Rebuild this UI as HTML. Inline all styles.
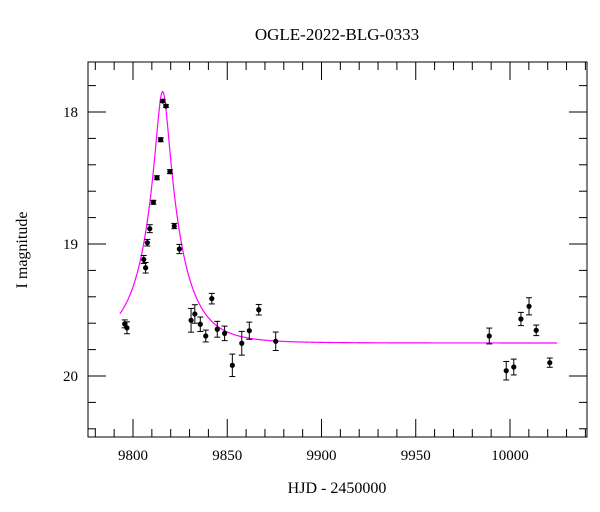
<!DOCTYPE html>
<html><head><meta charset="utf-8"><style>
body{margin:0;background:#fff;}
svg{display:block;font-family:"Liberation Serif",serif;}
</style></head><body>
<svg id="chart" width="600" height="512"></svg>
<script>
const hjd=[9795.6,9796.8,9805.7,9806.7,9807.6,9808.9,9810.8,9812.7,9814.7,9815.8,9817.5,9819.6,9821.9,9824.6,9830.8,9832.8,9835.7,9838.6,9841.8,9844.7,9848.6,9852.7,9857.7,9861.7,9866.7,9875.7,9989.0,9998.0,10002.0,10005.8,10010.1,10013.9,10021.1];
const mag=[19.605,19.635,19.117,19.18,18.99,18.884,18.684,18.498,18.21,17.917,17.955,18.452,18.864,19.038,19.578,19.53,19.608,19.697,19.414,19.646,19.677,19.919,19.752,19.657,19.498,19.737,19.697,19.96,19.932,19.568,19.472,19.654,19.899];
const err=[0.03,0.045,0.03,0.04,0.025,0.03,0.015,0.015,0.015,0.01,0.01,0.015,0.02,0.035,0.09,0.07,0.055,0.045,0.04,0.06,0.055,0.085,0.09,0.065,0.04,0.07,0.06,0.07,0.06,0.05,0.065,0.04,0.035];
const xTicks=[9800,9850,9900,9950,10000];
const yTicks=[18,19,20];
const model={t0:9815.7,tE:19.0,u0:0.175,base:19.75,tStart:9793,tEnd:10025};
const NS="http://www.w3.org/2000/svg";
const svg=document.getElementById('chart');
const L=88,R=587,T=62,B=437;
const x=d=>133+(d-9800)*1.885;
const y=m=>112+(m-18)*132;
function mk(tag,at,parent){const e=document.createElementNS(NS,tag);for(const k in at)e.setAttribute(k,at[k]);(parent||svg).appendChild(e);return e;}
const t=mk('text',{x:337,y:40,'text-anchor':'middle','font-size':17});
t.textContent='OGLE-2022-BLG-0333';


const frame=mk('rect',{x:L,y:T,width:R-L,height:B-T,fill:'none',stroke:'#000','stroke-width':1});


for(let d=9780;d<=10040;d+=10){const px=x(d);const maj=d%50===0;const len=maj?18:8;
mk('line',{x1:px,y1:B,x2:px,y2:B-len,stroke:'#000'});mk('line',{x1:px,y1:T,x2:px,y2:T+len,stroke:'#000'});}
xTicks.forEach(d=>{const e=mk('text',{x:x(d),y:460,'text-anchor':'middle','font-size':15});e.textContent=d;

});
for(let k=89;k<=102;k++){const m=k/5;const py=y(m);const maj=k%5===0;const len=maj?18:8;
mk('line',{x1:L,y1:py,x2:L+len,y2:py,stroke:'#000'});mk('line',{x1:R,y1:py,x2:R-len,y2:py,stroke:'#000'});}
yTicks.forEach(m=>{const e=mk('text',{x:78,y:y(m)+5,'text-anchor':'end','font-size':15});e.textContent=m;

});
const xl=mk('text',{x:337,y:493,'text-anchor':'middle','font-size':16});xl.textContent='HJD - 2450000';


const yl=mk('text',{x:0,y:0,'text-anchor':'middle','font-size':16,transform:'translate(27,250) rotate(-90)'});yl.textContent='I magnitude';


let pts=[];
for(let d=model.tStart;d<=model.tEnd;d+=0.25){const tau=(d-model.t0)/model.tE;const u=Math.sqrt(model.u0*model.u0+tau*tau);
const A=(u*u+2)/(u*Math.sqrt(u*u+4));pts.push(x(d).toFixed(2)+','+y(model.base-2.5*Math.log10(A)).toFixed(2));}
const ml=mk('polyline',{points:pts.join(' '),fill:'none',stroke:'#ff00ff','stroke-width':1.2});


hjd.forEach((d,i)=>{const g=mk('g',{});


const px=x(d),y1=y(mag[i]-err[i]),y2=y(mag[i]+err[i]);
mk('line',{x1:px,y1:y1,x2:px,y2:y2,stroke:'#000','stroke-width':1},g);
mk('line',{x1:px-3,y1:y1,x2:px+3,y2:y1,stroke:'#000','stroke-width':1},g);
mk('line',{x1:px-3,y1:y2,x2:px+3,y2:y2,stroke:'#000','stroke-width':1},g);
mk('circle',{cx:px,cy:y(mag[i]),r:2.6,fill:'#000'},g);});
</script>
</body></html>
